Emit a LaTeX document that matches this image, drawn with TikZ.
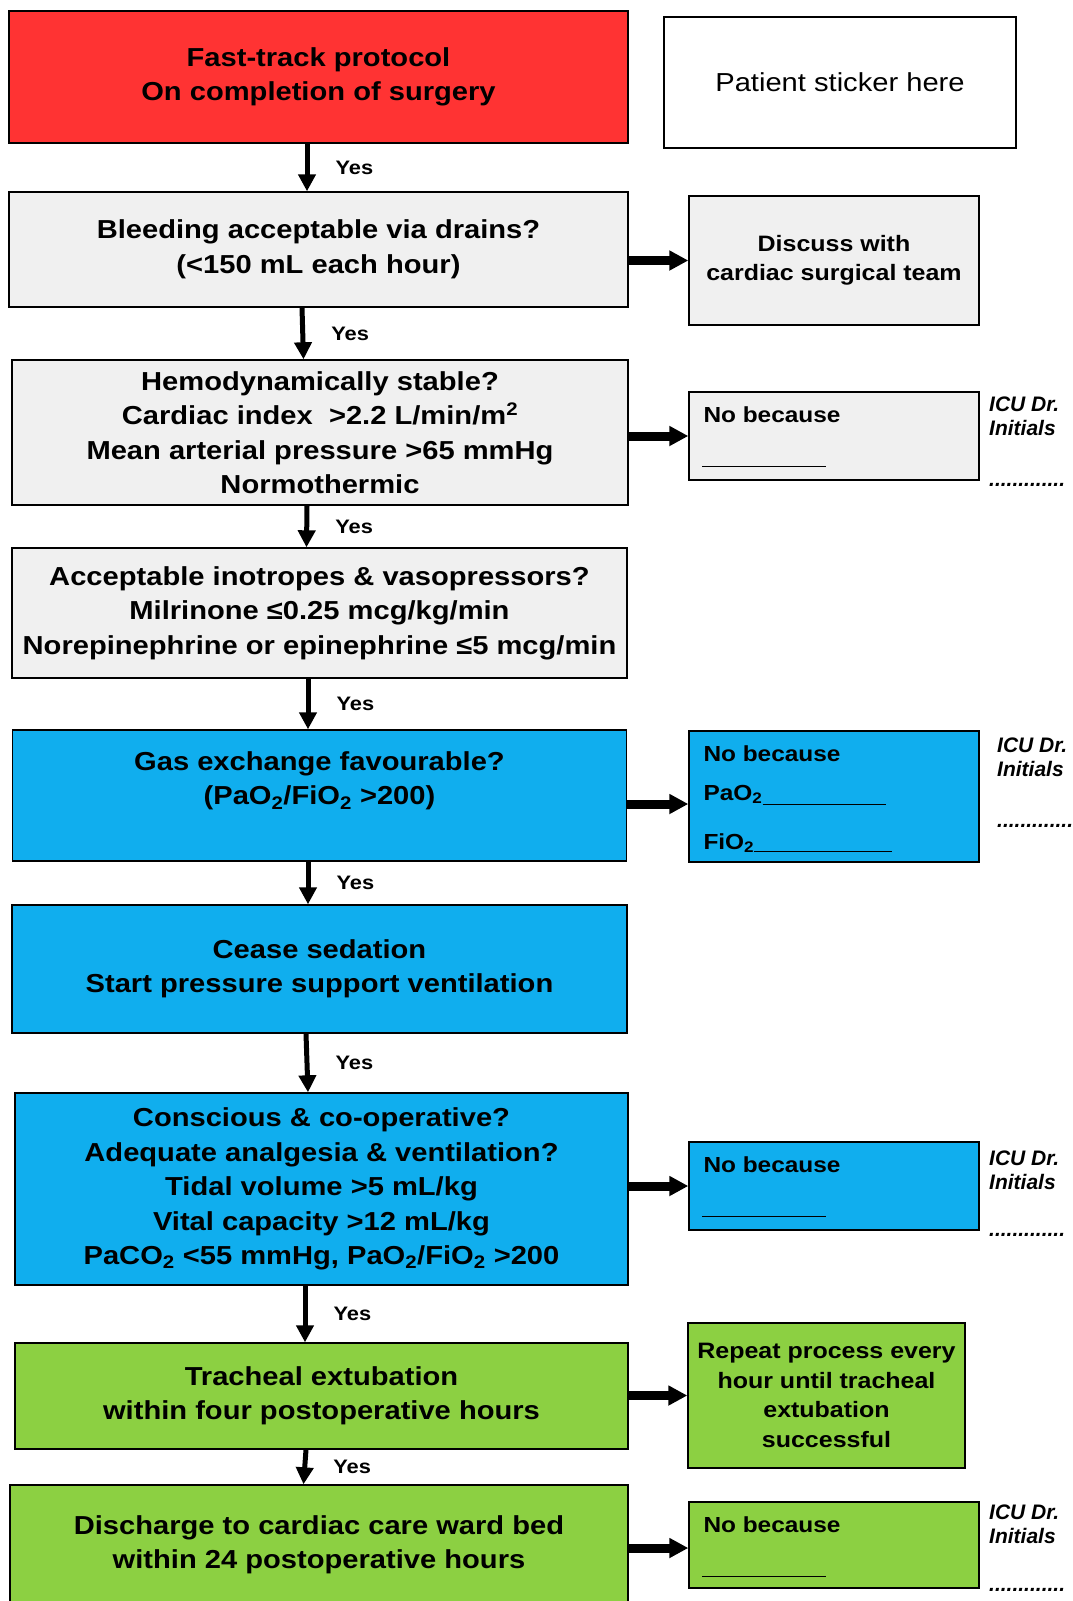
\documentclass[tikz,border=0pt]{standalone}
\usepackage{fontspec}
\setmainfont{Liberation Sans}[FakeStretch=1.12]
\newfontfamily\icufont{Liberation Sans}
\usetikzlibrary{arrows.meta}
\definecolor{ink}{HTML}{000000}
\definecolor{stopred}{HTML}{FF3333}
\definecolor{checkgray}{HTML}{F0F0F0}
\definecolor{ventblue}{HTML}{10AEEE}
\definecolor{goodgreen}{HTML}{8CD042}
\newcommand{\boxfontsize}{\fontsize{26}{34.5}\selectfont}
\newcommand{\sidefontsize}{\fontsize{22.3}{29.5}\selectfont}
\newcommand{\notefontsize}{\fontsize{21.8}{24}\selectfont}
\newcommand{\yesfontsize}{\fontsize{19.5}{22}\selectfont}
\newcommand{\icufontsize}{\fontsize{21}{23.5}\selectfont}
\tikzset{
  every picture/.style = {line join=miter},
  stepbox/.style  = {draw=ink, line width=1.4pt, inner sep=0pt, align=center, text=ink, font=\boxfontsize\bfseries},
  sidebox/.style  = {draw=ink, line width=1.4pt, inner sep=0pt, align=center, text=ink, font=\sidefontsize\bfseries},
  note/.style     = {inner sep=0pt, text=ink, font=\notefontsize\bfseries},
  initials/.style = {inner sep=0pt, align=left, text=ink, font=\icufont\icufontsize\bfseries\itshape},
  down/.style     = {ink, line width=5pt, -{Triangle[width=17pt, length=17pt]}},
  across/.style   = {ink, line width=9pt, -{Triangle[width=19pt, length=19pt]}},
  yes/.style      = {right, xshift=26pt, inner sep=0pt, text=ink, font=\yesfontsize\bfseries},
  blank/.style    = {ink, line width=1.6pt},
}

\begin{document}
\begin{tikzpicture}[x=1pt, y=-1pt]
  \useasboundingbox (0,0) rectangle (1073,1601);
  \clip (0,0) rectangle (1073,1601);

  % main column, top to bottom
  \node[stepbox, fill=stopred,   minimum width=619pt, minimum height=132pt] (start) at (318.5,77)   {Fast-track protocol\\On completion of surgery};
  \node[stepbox, fill=checkgray, minimum width=619pt, minimum height=115pt] (bleed) at (318.5,249.5) {Bleeding acceptable via drains?\\(<150 mL each hour)};
  \node[stepbox, fill=checkgray, minimum width=616pt, minimum height=145pt] (hemo)  at (320,432.5)   {Hemodynamically stable?\\Cardiac index\ \ >2.2 L/min/m\textsuperscript{2}\\Mean arterial pressure >65 mmHg\\Normothermic};
  \node[stepbox, fill=checkgray, minimum width=615pt, minimum height=130pt] (ino)   at (319.5,613)   {Acceptable inotropes \& vasopressors?\\Milrinone ≤0.25 mcg/kg/min\\Norepinephrine or epinephrine ≤5 mcg/min};
  \node[stepbox, fill=ventblue,  minimum width=614pt, minimum height=131pt] (gas)   at (319.5,795.5) {Gas exchange favourable?\\(PaO\textsubscript{2}/FiO\textsubscript{2} >200)\\\mbox{}};
  \node[stepbox, fill=ventblue,  minimum width=615pt, minimum height=128pt] (cease) at (319.5,969)   {Cease sedation\\Start pressure support ventilation};
  \node[stepbox, fill=ventblue,  minimum width=613pt, minimum height=192pt] (consc) at (321.5,1189)  {Conscious \& co-operative?\\Adequate analgesia \& ventilation?\\Tidal volume >5 mL/kg\\Vital capacity >12 mL/kg\\PaCO\textsubscript{2} <55 mmHg, PaO\textsubscript{2}/FiO\textsubscript{2} >200};
  \node[stepbox, fill=goodgreen, minimum width=613pt, minimum height=106pt] (trach) at (321.5,1396)  {Tracheal extubation\\within four postoperative hours};
  \node[stepbox, fill=goodgreen, minimum width=618pt, minimum height=120pt] (disch) at (319,1545)    {Discharge to cardiac care ward bed\\within 24 postoperative hours};

  % right column
  \node[sidebox, fill=white, minimum width=352pt, minimum height=131pt, font=\fontsize{26}{30}\selectfont] (sticker) at (840,82.5) {Patient sticker here};
  \node[sidebox, fill=checkgray, minimum width=290pt, minimum height=129pt] (discuss) at (834,260.5)  {Discuss with\\cardiac surgical team};
  \node[sidebox, fill=checkgray, minimum width=290pt, minimum height=88pt]  (nob1)    at (834,436)    {};
  \node[sidebox, fill=ventblue,  minimum width=290pt, minimum height=131pt] (nob2)    at (834,796.5)  {};
  \node[sidebox, fill=ventblue,  minimum width=290pt, minimum height=88pt]  (nob3)    at (834,1186)   {};
  \node[sidebox, fill=goodgreen, minimum width=277pt, minimum height=145pt] (repeat)  at (826.5,1395.5) {Repeat process every\\hour until tracheal\\extubation\\successful};
  \node[sidebox, fill=goodgreen, minimum width=290pt, minimum height=86pt]  (nob4)    at (834,1545)   {};

  % "no because" with a blank to fill in
  \foreach \n in {1,3,4} {
    \node[note, anchor=base west] (why\n) at ([shift={(15,31)}]nob\n.north west) {No because};
    \draw[blank] ([shift={(14,75)}]nob\n.north west) -- ++(124,0);
  }
  \node[note, anchor=base west] (why2) at ([shift={(15,31)}]nob2.north west)  {No because};
  \node[note, anchor=base west] (pao)  at ([shift={(15,70)}]nob2.north west)  {PaO\textsubscript{2}};
  \node[note, anchor=base west] (fio)  at ([shift={(15,119)}]nob2.north west) {FiO\textsubscript{2}};
  \draw[blank] ([shift={(0,4)}]pao.base east) -- ([shift={(198,74)}]nob2.north west);
  \draw[blank] ([shift={(0,2)}]fio.base east) -- ([shift={(204,121)}]nob2.north west);

  % signature spots
  \foreach \n/\x/\y/\d in {1/989/397/485, 2/997/738/826, 3/989/1151/1235, 4/989/1505/1590} {
    \node[initials, anchor=north west] (icu\n)  at (\x,\y) {ICU Dr.\\Initials};
    \node[initials, anchor=west]       (dots\n) at (\x,\d) {.............};
  }

  % yes arrows down the main column
  \foreach \a/\b/\s in {start/bleed/-11.5, bleed/hemo/-16.5, hemo/ino/-13, ino/gas/-11.5,
                        gas/cease/-11.5, cease/consc/-13.5, consc/trach/-16.5, trach/disch/-15.5}
    \draw[down] ([xshift=\s pt]\a.south) -- node[yes] {Yes} ([xshift=\s pt]\b.north);

  % no arrows out to the right
  \foreach \a/\b/\s in {bleed/discuss/0, hemo/nob1/0, gas/nob2/-7.5, consc/nob3/0, trach/repeat/0, disch/nob4/-3} {
    \coordinate (\b-in) at ([yshift=\s pt]\b.west);
    \draw[across] (\a.east |- \b-in) -- (\b-in);
  }
\end{tikzpicture}
\end{document}
